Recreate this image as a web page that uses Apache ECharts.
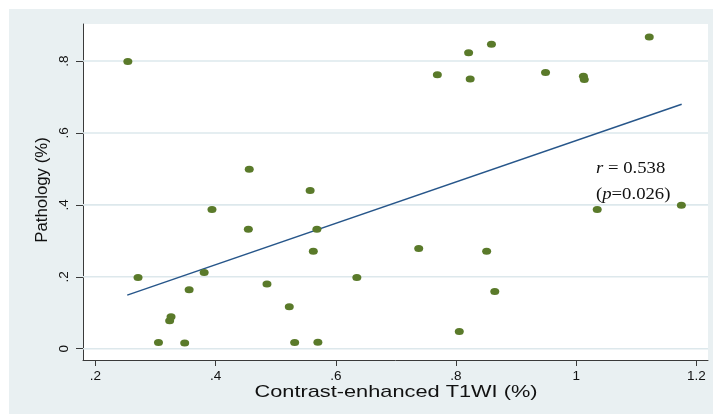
<!DOCTYPE html>
<html>
<head>
<meta charset="utf-8">
<script src="https://cdn.jsdelivr.net/npm/echarts@6/dist/echarts.min.js"></script>
<style>
html,body{margin:0;padding:0;background:#fff;}
#main{width:714px;height:414px;}
</style>
</head>
<body>
<div id="main"></div>
<script>
// ---- data ----
const ceT1wi = [0.254, 0.271, 0.305, 0.3236, 0.3259, 0.3486, 0.356, 0.381, 0.394, 0.4545, 0.456,
  0.4855, 0.5226, 0.5316, 0.5573, 0.5626, 0.5686, 0.5702, 0.635, 0.738, 0.769, 0.8055,
  0.821, 0.8236, 0.851, 0.859, 0.8645, 0.949, 1.012, 1.0135, 1.035, 1.1216, 1.175];
const pathology = [0.799, 0.198, 0.017, 0.078, 0.089, 0.016, 0.164, 0.212, 0.387, 0.332, 0.499,
  0.180, 0.117, 0.017, 0.440, 0.271, 0.332, 0.018, 0.198, 0.279, 0.762, 0.048,
  0.823, 0.750, 0.271, 0.847, 0.159, 0.768, 0.758, 0.749, 0.387, 0.867, 0.399];
const fitX = [0.253, 1.1755];
const fitY = [0.149, 0.680];
const xTickValues = [0.2, 0.4, 0.6, 0.8, 1.0, 1.2];
const xTickLabels = ['.2', '.4', '.6', '.8', '1', '1.2'];
const yTickValues = [0, 0.2, 0.4, 0.6, 0.8];
const yTickLabels = ['0', '.2', '.4', '.6', '.8'];
const xRange = [0.1794, 1.2193];
const yRange = [-0.0314, 0.903];
const xTitle = 'Contrast-enhanced T1WI (%)';
const yTitle = 'Pathology (%)';
const annotR = '0.538';
const annotP = '0.026';

function lookup(vals, labels, v) {
  let best = 0;
  for (let i = 1; i < vals.length; i++) if (Math.abs(vals[i] - v) < Math.abs(vals[best] - v)) best = i;
  return labels[best];
}

const chart = echarts.init(document.getElementById('main'));
const sans = '"Liberation Sans", Arial, sans-serif';
const axisColor = '#3a3a3a';
const gridColor = '#dde8ec';

const gridSeries = yTickValues.map(v => ({
  type: 'line', z: 1, silent: true, showSymbol: false,
  lineStyle: { color: gridColor, width: 1.6 },
  data: [[xRange[0], v], [xRange[1], v]]
}));

chart.setOption({
  backgroundColor: '#ffffff',
  animation: false,
  grid: { left: 83, right: 6, top: 24, bottom: 54, show: true, backgroundColor: '#ffffff', borderWidth: 0 },
  xAxis: {
    type: 'value', min: xRange[0], max: xRange[1],
    axisLine: { show: true, onZero: false, lineStyle: { color: axisColor, width: 1 } },
    axisTick: { show: true, length: 6, customValues: xTickValues, lineStyle: { color: axisColor } },
    axisLabel: { customValues: xTickValues, margin: 9, fontSize: 13.5, fontFamily: sans, color: '#111',
      formatter: v => lookup(xTickValues, xTickLabels, v) },
    splitLine: { show: false }
  },
  yAxis: {
    type: 'value', min: yRange[0], max: yRange[1],
    axisLine: { show: true, onZero: false, lineStyle: { color: axisColor, width: 1 } },
    axisTick: { show: true, length: 7, customValues: yTickValues, lineStyle: { color: axisColor } },
    axisLabel: { customValues: yTickValues, rotate: 90, margin: 12, fontSize: 13.5, fontFamily: sans, color: '#111',
      formatter: v => lookup(yTickValues, yTickLabels, v) },
    splitLine: { show: false }
  },
  graphic: [
    { type: 'rect', z: -10, silent: true, shape: { x: 9, y: 9, width: 704, height: 405 }, style: { fill: '#e9f0f2' } },
    { type: 'text', x: 396, y: 392, scaleX: 1.28, z: 10,
      style: { text: xTitle, fontSize: 17, fontFamily: sans, fill: '#111', align: 'center', verticalAlign: 'middle' } },
    { type: 'text', x: 43, y: 190, rotation: Math.PI / 2, scaleX: 1.05, z: 10,
      style: { text: yTitle, fontSize: 16, fontFamily: sans, fill: '#111', align: 'center', verticalAlign: 'middle' } },
    { type: 'text', x: 596, y: 156, scaleX: 1.1, z: 10,
      style: { text: '{i|r} = ' + annotR + '\n({i|p}=' + annotP + ')', fontSize: 17, lineHeight: 26,
        fontFamily: '"Liberation Serif", "Times New Roman", serif', fill: '#111', align: 'left', verticalAlign: 'top',
        rich: { i: { fontStyle: 'italic', fontSize: 17, fontFamily: '"Liberation Serif", "Times New Roman", serif', fill: '#111' } } } }
  ],
  series: gridSeries.concat([
    {
      type: 'line', z: 2, silent: true, showSymbol: false,
      lineStyle: { color: '#27568a', width: 1.5 },
      data: fitX.map((x, i) => [x, fitY[i]])
    },
    {
      type: 'scatter', z: 3, symbol: 'circle', symbolSize: [9, 7],
      itemStyle: { color: '#5a7a2a', opacity: 1 },
      data: ceT1wi.map((x, i) => [x, pathology[i]])
    }
  ])
});
</script>
</body>
</html>
